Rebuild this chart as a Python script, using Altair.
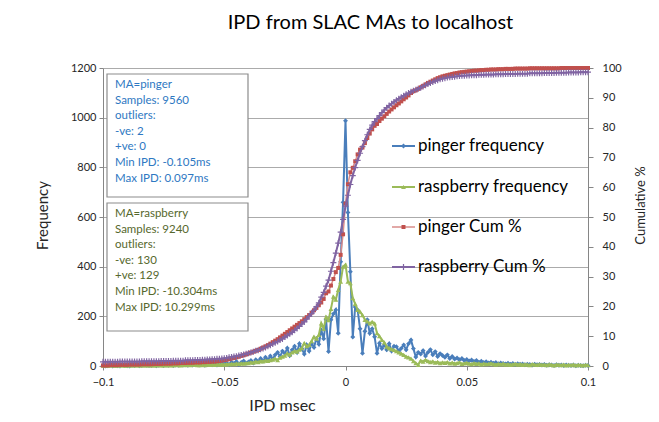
import altair as alt
import pandas as pd

# ---------------- data ----------------
IPD_MSEC = [round(i * 0.001, 3) for i in range(-100, 101)]

PINGER_FREQ = (
    [2, 0, 1, 3, 0, 2, 1, 0, 4, 2, 1, 0, 3, 2, 5, 1, 2, 4, 3, 2]
    + [2, 4, 1, 3, 5, 2, 4, 3, 5, 2, 4, 3, 6, 4, 5, 3, 6, 4, 7, 5]
    + [4, 7, 3, 6, 8, 5, 9, 4, 7, 10]
    + [8, 12, 5, 15, 10, 18, 6, 14, 20, 11]
    + [16, 22, 12, 25, 18, 30, 20, 35, 24, 40]
    + [28, 45, 55, 38, 60, 50, 72, 42, 65, 80]
    + [55, 90, 70, 48, 85, 60, 92, 75, 110, 88]
    + [145, 110, 186, 58, 186, 210, 226, 132, 420, 659]
    + [988]
    + [618, 380, 117, 238, 226, 150, 51, 140, 186, 132]
    + [150, 118, 51, 92, 70, 85, 65, 90, 60, 80]
    + [78, 60, 71, 85, 65, 90, 105, 70, 36, 55]
    + [48, 62, 40, 55, 66, 45, 58, 38, 50, 42]
    + [35, 45, 30, 38, 28, 32, 25, 30, 22, 26]
    + [20, 24, 18, 22, 15, 19, 14, 17, 12, 15]
    + [11, 14, 9, 12, 10, 8, 11, 7, 10, 6, 9, 7, 8, 5, 7, 6, 4, 7, 5, 6]
    + [4, 6, 3, 5, 4, 2, 5, 3, 4, 2, 4, 3, 2, 4, 1, 3, 2, 1, 3, 2]
)

RASPBERRY_FREQ = (
    [1, 2, 1, 3, 2, 1, 2, 3, 2, 1, 3, 2, 2, 2, 3, 2, 3, 2, 3, 2]
    + [2, 3, 2, 4, 3, 2, 4, 3, 4, 3, 5, 4, 3, 5, 4, 5, 4, 6, 5, 4]
    + [4, 5, 4, 6, 5, 6, 5, 7, 6, 7]
    + [6, 8, 7, 9, 8, 10, 9, 11, 10, 12]
    + [12, 15, 14, 18, 16, 20, 19, 22, 21, 24]
    + [26, 30, 24, 34, 38, 42, 51, 46, 55, 60]
    + [58, 66, 72, 92, 80, 85, 100, 118, 110, 125]
    + [172, 150, 198, 185, 230, 279, 267, 307, 340, 400]
    + [408]
    + [340, 334, 273, 250, 226, 219, 205, 186, 180, 172]
    + [178, 172, 132, 120, 105, 95, 78, 72, 68, 65]
    + [60, 55, 50, 45, 38, 35, 30, 20, 12, 5]
    + [22, 18, 25, 20, 16, 19, 14, 17, 12, 15]
    + [13, 16, 11, 14, 10, 12, 15, 9, 11, 13]
    + [10, 8, 12, 9, 11, 7, 10, 8, 9, 11]
    + [8, 6, 9, 7, 10, 6, 8, 5, 7, 9, 6, 8, 5, 7, 6, 4, 8, 6, 5, 7]
    + [5, 6, 4, 7, 5, 3, 6, 5, 4, 6, 3, 5, 4, 6, 3, 5, 4, 3, 5, 4]
)

PINGER_CUM = (
    [0.2, 0.2, 0.2, 0.3, 0.3, 0.3, 0.3, 0.4, 0.4, 0.4, 0.4, 0.5, 0.5, 0.5, 0.5, 0.5, 0.6, 0.6, 0.6, 0.6]
    + [0.6, 0.7, 0.7, 0.7, 0.7, 0.8, 0.8, 0.8, 0.8, 0.9, 0.9, 0.9, 1.0, 1.0, 1.0, 1.1, 1.1, 1.1, 1.2, 1.2]
    + [1.2, 1.3, 1.3, 1.4, 1.4, 1.5, 1.5, 1.6, 1.7, 1.8]
    + [2.0, 2.1, 2.3, 2.5, 2.7, 2.9, 3.1, 3.4, 3.6, 3.9]
    + [4.2, 4.5, 4.8, 5.1, 5.4, 5.8, 6.2, 6.6, 7.0, 7.5]
    + [8.0, 8.5, 9.0, 9.6, 10.2, 10.8, 11.4, 12.0, 12.6, 13.2]
    + [13.8, 14.4, 15.0, 15.7, 16.4, 17.1, 17.9, 18.7, 19.5, 20.4]
    + [21.3, 22.5, 24.4, 25.0, 27.0, 29.2, 31.5, 32.9, 37.3, 44.2]
    + [54.5]
    + [61.0, 65.0, 66.5, 68.7, 71.0, 72.6, 73.3, 74.8, 76.5, 78.0]
    + [79.4, 80.6, 81.2, 82.2, 83.0, 83.8, 84.6, 85.4, 86.1, 86.8]
    + [87.5, 88.1, 88.8, 89.5, 90.1, 90.8, 91.6, 92.2, 92.5, 93.0]
    + [93.5, 94.0, 94.5, 95.0, 95.4, 95.8, 96.2, 96.6, 96.9, 97.2]
    + [97.4, 97.6, 97.8, 98.0, 98.2, 98.3, 98.5, 98.6, 98.7, 98.8]
    + [98.9, 99.0, 99.1, 99.1, 99.2, 99.3, 99.3, 99.4, 99.4, 99.5]
    + [99.5, 99.5, 99.6, 99.6, 99.6, 99.7, 99.7, 99.7, 99.7, 99.8, 99.8, 99.8, 99.8, 99.8, 99.8, 99.9, 99.9, 99.9, 99.9, 99.9]
    + [99.9, 99.9, 99.9, 99.9, 99.9, 99.9, 99.9, 99.9, 100, 100, 100, 100, 100, 100, 100, 100, 100, 100, 100, 100]
)

RASPBERRY_CUM = (
    [1.4, 1.4, 1.4, 1.4, 1.4, 1.4, 1.4, 1.5, 1.5, 1.5, 1.5, 1.5, 1.5, 1.5, 1.5, 1.5, 1.6, 1.6, 1.6, 1.6]
    + [1.6, 1.6, 1.6, 1.6, 1.7, 1.7, 1.7, 1.7, 1.7, 1.8, 1.8, 1.8, 1.8, 1.8, 1.9, 1.9, 1.9, 1.9, 2.0, 2.0]
    + [2.0, 2.1, 2.1, 2.2, 2.2, 2.3, 2.3, 2.4, 2.4, 2.5]
    + [2.6, 2.7, 2.9, 3.0, 3.2, 3.3, 3.5, 3.7, 3.9, 4.1]
    + [4.3, 4.5, 4.8, 5.1, 5.3, 5.6, 5.9, 6.2, 6.6, 7.0]
    + [7.4, 7.8, 8.2, 8.7, 9.1, 9.7, 10.2, 10.8, 11.3, 12.0]
    + [12.6, 13.3, 14.1, 14.8, 15.7, 16.7, 17.6, 18.7, 19.9, 21.2]
    + [23.1, 24.7, 26.8, 28.8, 31.8, 34.7, 37.9, 41.2, 44.9, 49.2]
    + [53.6]
    + [57.3, 60.9, 63.9, 66.6, 69.0, 71.4, 73.6, 75.6, 77.6, 79.4]
    + [80.8, 82.0, 83.0, 84.0, 85.0, 85.9, 86.7, 87.4, 88.0, 88.6]
    + [89.2, 89.7, 90.2, 90.7, 91.2, 91.6, 92.0, 92.4, 92.7, 93.0]
    + [93.4, 93.8, 94.2, 94.6, 95.0, 95.3, 95.6, 95.9, 96.2, 96.4]
    + [96.6, 96.8, 96.9, 97.0, 97.1, 97.2, 97.3, 97.4, 97.4, 97.5]
    + [97.5, 97.6, 97.6, 97.6, 97.7, 97.7, 97.7, 97.8, 97.8, 97.8]
    + [97.8, 97.9, 97.9, 97.9, 97.9, 98.0, 98.0, 98.0, 98.0, 98.0, 98.1, 98.1, 98.1, 98.1, 98.1, 98.2, 98.2, 98.2, 98.2, 98.2]
    + [98.2, 98.3, 98.3, 98.3, 98.3, 98.3, 98.4, 98.4, 98.4, 98.4, 98.4, 98.5, 98.5, 98.5, 98.5, 98.5, 98.6, 98.6, 98.6, 98.6]
)

X_TICKS = [-0.1, -0.05, 0, 0.05, 0.1]
FREQ_TICKS = [0, 200, 400, 600, 800, 1000, 1200]
CUM_TICKS = [0, 10, 20, 30, 40, 50, 60, 70, 80, 90, 100]

SERIES_NAMES = ["pinger frequency", "raspberry frequency", "pinger Cum %", "raspberry Cum %"]
PINGER_NOTE = ["MA=pinger", "Samples: 9560", "outliers:", "-ve: 2", "+ve: 0",
               "Min IPD: -0.105ms", "Max IPD: 0.097ms"]
RASPBERRY_NOTE = ["MA=raspberry", "Samples: 9240", "outliers:", "-ve: 130", "+ve: 129",
                  "Min IPD: -10.304ms", "Max IPD: 10.299ms"]

df = pd.DataFrame({
    "ipd": IPD_MSEC,
    "pinger_freq": PINGER_FREQ,
    "raspberry_freq": RASPBERRY_FREQ,
    "pinger_cum": PINGER_CUM,
    "raspberry_cum": RASPBERRY_CUM,
})

# ---------------- styling ----------------
FONT = "Lato"
W, H = 485, 298
BLUE, GREEN, RED, PURPLE = "#4A7EBB", "#9BBB59", "#C0504D", "#8064A2"
RED_LINE = "#D98C8A"
PLUS = "M-1,0H1M0,-1V1"

x_enc = alt.X(
    "ipd:Q",
    scale=alt.Scale(domain=[-0.1, 0.1], nice=False, zero=False),
    axis=alt.Axis(values=X_TICKS, format="~g", title="IPD msec", grid=False,
                  tickSize=4, labelPadding=6, labelFlush=False,
                  titleX=179, titleY=39, titleBaseline="middle", titleAlign="center",
                  titleFontSize=16),
)

freq_scale = alt.Scale(domain=[0, 1200], nice=False, zero=True)
cum_scale = alt.Scale(domain=[0, 100], nice=False, zero=True)

left_axis = alt.Axis(orient="left", values=FREQ_TICKS, format="d", title="Frequency", grid=True,
                     tickSize=4, labelPadding=3, labelFlush=False,
                     titleX=-61, titleY=147, titleAngle=270, titleBaseline="middle",
                     titleAlign="center", titleFontSize=15)
right_axis = alt.Axis(orient="right", values=CUM_TICKS, format="d", title="Cumulative %",
                      grid=False, tickSize=5, labelPadding=9, labelFlush=False,
                      titleX=52, titleY=137, titleAngle=270, titleBaseline="middle",
                      titleAlign="center", titleFontSize=13)


def series(field, color, line_color, line_w, shape, size, filled, scale, axis):
    base = alt.Chart(df)
    line = base.mark_line(color=line_color, strokeWidth=line_w).encode(
        x=x_enc, y=alt.Y(f"{field}:Q", scale=scale, axis=axis))
    pts = base.mark_point(shape=shape, size=size, filled=filled, color=color,
                          opacity=1, strokeWidth=1.2).encode(
        x=x_enc, y=alt.Y(f"{field}:Q", scale=scale, axis=axis))
    return [line, pts]


freq = alt.layer(
    *series("pinger_freq", BLUE, BLUE, 2, "diamond", 24, True, freq_scale, left_axis),
    *series("raspberry_freq", GREEN, GREEN, 2, "triangle-up", 24, True, freq_scale, left_axis),
)
cum = alt.layer(
    *series("pinger_cum", RED, RED_LINE, 1.5, "square", 16, True, cum_scale, right_axis),
    *series("raspberry_cum", PURPLE, PURPLE, 2, PLUS, 36, False, cum_scale, right_axis),
)

one = pd.DataFrame({"k": [0]})
decor = []

# note boxes
for (y0, y1, lines, col) in [(6, 129, PINGER_NOTE, "#2E78C2"), (135, 263, RASPBERRY_NOTE, "#56682D")]:
    decor.append(alt.Chart(one).mark_rect(fill="white", stroke="#8C8C8C", strokeWidth=1.2).encode(
        x=alt.value(4), x2=alt.value(145), y=alt.value(y0), y2=alt.value(y1)))
    decor.append(alt.Chart(one).mark_text(text=lines, align="left", baseline="top", lineHeight=15.6,
                                          font=FONT, fontSize=11.5, color=col).encode(
        x=alt.value(12), y=alt.value(y0 + 5)))

# legend
leg_styles = [
    (BLUE, BLUE, 2, "diamond", 24, True),
    (GREEN, GREEN, 2, "triangle-up", 24, True),
    (RED, RED_LINE, 1.5, "square", 16, True),
    (PURPLE, PURPLE, 2, PLUS, 36, False),
]
for name, ly, (mc, lc, lw, shp, sz, fl) in zip(SERIES_NAMES, [78, 119, 159, 199], leg_styles):
    decor.append(alt.Chart(one).mark_rule(color=lc, strokeWidth=lw).encode(
        x=alt.value(289), x2=alt.value(312), y=alt.value(ly)))
    decor.append(alt.Chart(one).mark_point(shape=shp, size=sz, filled=fl, color=mc, opacity=1,
                                           strokeWidth=1.2).encode(
        x=alt.value(300.5), y=alt.value(ly)))
    decor.append(alt.Chart(one).mark_text(text=name, align="left", baseline="middle",
                                          font=FONT, fontSize=17, color="#000000").encode(
        x=alt.value(315), y=alt.value(ly)))

chart = alt.layer(freq, cum, *decor).resolve_scale(y="independent").properties(
    width=W, height=H,
    autosize=alt.AutoSizeParams(type="none"),
    padding={"left": 95, "top": 60, "right": 62, "bottom": 46},
    title=alt.TitleParams("IPD from SLAC MAs to localhost", font=FONT, fontSize=20,
                          fontWeight="normal", color="#000000", anchor="middle",
                          dx=25, offset=29),
).configure_view(stroke=None).configure_axis(
    domainColor="#868686", tickColor="#868686", labelFont=FONT, labelFontSize=11,
    labelColor="#262626", titleFont=FONT, titleFontWeight="normal", titleColor="#262626",
    gridColor="#ABABAB", gridWidth=1,
)

chart.save("out.html", embed_options={"renderer": "svg", "actions": False})
